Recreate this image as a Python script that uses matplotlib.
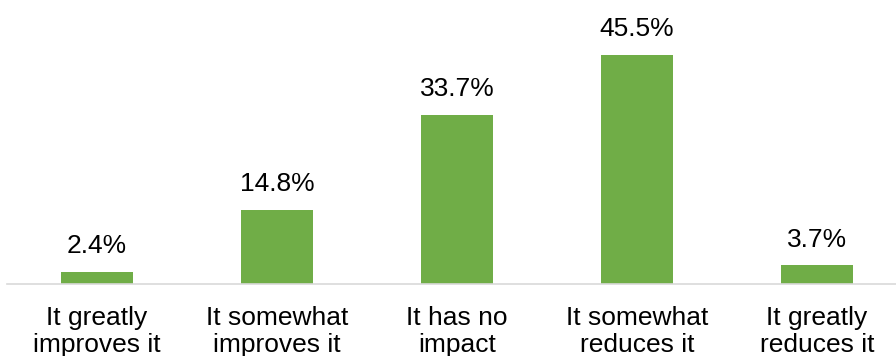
import matplotlib
matplotlib.use("Agg")
import matplotlib.pyplot as plt

categories = ["It greatly\nimproves it", "It somewhat\nimproves it", "It has no\nimpact",
              "It somewhat\nreduces it", "It greatly\nreduces it"]
values = [2.4, 14.8, 33.7, 45.5, 3.7]

plt.rcParams['font.family'] = ['Liberation Sans', 'DejaVu Sans']

fig = plt.figure(figsize=(8.96, 3.56), dpi=100)
# axis spans 7px..907px horizontally (right edge cut off), baseline at 284px
ax = fig.add_axes([7 / 896, (356 - 284) / 356, 900 / 896, 284 / 356])

x = range(len(categories))
bars = ax.bar(x, values, width=0.4, color="#70AD47")
for xi, v in zip(x, values):
    ax.annotate(f"{v}%", (xi, v), xytext=(0, 10), textcoords="offset points",
                ha="center", va="bottom", fontsize=19, color="#000000")

ax.set_xlim(-0.5, 4.5)
ax.set_ylim(0, 56.5)
ax.set_xticks(list(x))
ax.set_xticklabels(categories, fontsize=19, linespacing=1.12)
ax.tick_params(axis="x", length=0, pad=16)
ax.set_yticks([])
for s in ["top", "right", "left"]:
    ax.spines[s].set_visible(False)
ax.spines["bottom"].set_color("#D9D9D9")
ax.spines["bottom"].set_linewidth(1.2)

fig.savefig("out.png", dpi=100)
